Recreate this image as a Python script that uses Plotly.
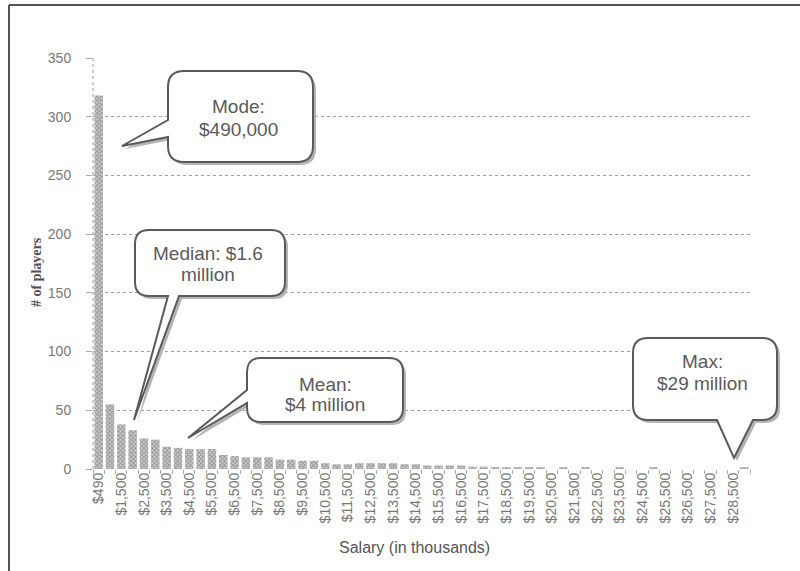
import plotly.graph_objects as go

# Salary bins (thousands of dollars): the $490k minimum, then $500k steps up to $29M
salary_bins = [490] + list(range(1000, 29001, 500))
bin_labels = [f"${v:,}" for v in salary_bins]

# Number of players per salary bin
player_counts = [
    318, 55, 38, 33, 26, 25, 19, 18, 17, 17,
    17, 12, 11, 10, 10, 10, 8, 8, 7, 7,
    5, 4, 4, 5, 5, 5, 5, 4, 4, 3,
    3, 3, 3, 2, 2, 1, 1, 1, 1, 1,
    0, 1, 0, 1, 0, 0, 1, 0, 0, 1,
    0, 0, 0, 0, 0, 0, 0, 1,
]

# Only every other bin gets a printed tick label
tick_text = [lab if i % 2 == 0 else "" for i, lab in enumerate(bin_labels)]

y_ticks = [0, 50, 100, 150, 200, 250, 300, 350]

# Callout texts
mode_text = ["Mode:", "$490,000"]
median_text = ["Median: $1.6", "million"]
mean_text = ["Mean:", "$4 million"]
max_text = ["Max:", "$29 million"]

FIG_W, FIG_H = 800, 571
L, R, T, B = 93, 750, 58, 469
PW, PH = R - L, B - T


def px_x(x):
    return (x - L) / PW


def px_y(y):
    return (B - y) / PH


def bubble_path(x0, y0, x1, y1, r, side, a, b, tip, dx=0, dy=0):
    """Rounded speech bubble; tail leaves `side` between a and b and ends at tip."""
    pts = []

    def P(cmd, *xy):
        coords = []
        for i in range(0, len(xy), 2):
            coords.append(f"{px_x(xy[i] + dx):.5f},{px_y(xy[i + 1] + dy):.5f}")
        pts.append(cmd + " " + " ".join(coords))

    P("M", x0 + r, y0)
    P("L", x1 - r, y0)
    P("Q", x1, y0, x1, y0 + r)
    P("L", x1, y1 - r)
    P("Q", x1, y1, x1 - r, y1)
    if side == "bottom":
        P("L", b, y1)
        P("L", tip[0], tip[1])
        P("L", a, y1)
    P("L", x0 + r, y1)
    P("Q", x0, y1, x0, y1 - r)
    if side == "left":
        P("L", x0, b)
        P("L", tip[0], tip[1])
        P("L", x0, a)
    P("L", x0, y0 + r)
    P("Q", x0, y0, x0 + r, y0)
    return " ".join(pts) + " Z"


fig = go.Figure()
fig.add_trace(go.Bar(
    x=bin_labels,
    y=player_counts,
    marker=dict(
        color="#b8b8b8",
        line=dict(width=0),
        pattern=dict(shape="x", size=3, solidity=0.55,
                     fgcolor="#5a5a5a", bgcolor="#cfcfcf"),
    ),
    hoverinfo="x+y",
))

shapes = []
annotations = []

# dotted left axis line
shapes.append(dict(type="line", xref="paper", yref="paper",
                   x0=0, x1=0, y0=0, y1=1,
                   line=dict(color="#9a9a9a", width=1, dash="dot"), layer="above"))

bubbles = [
    dict(box=(168, 71, 313, 162), r=16, side="left", a=120, b=137, tip=(122, 146),
         text=mode_text, cx=238, ly=(107, 129)),
    dict(box=(135, 230, 285, 296), r=14, side="bottom", a=168, b=179, tip=(134, 420),
         text=median_text, cx=208, ly=(253, 274)),
    dict(box=(247, 358, 403, 422), r=14, side="left", a=390, b=403, tip=(188, 438),
         text=mean_text, cx=325, ly=(384, 404)),
    dict(box=(633, 338, 777, 420), r=15, side="bottom", a=717, b=753, tip=(734, 458),
         text=max_text, cx=702, ly=(361, 383)),
]

for bb in bubbles:
    x0, y0, x1, y1 = bb["box"]
    # soft drop shadow
    shapes.append(dict(type="path", xref="paper", yref="paper", layer="above",
                       path=bubble_path(x0, y0, x1, y1, bb["r"], bb["side"], bb["a"], bb["b"],
                                        bb["tip"], dx=3, dy=3),
                       fillcolor="#b4b4b4", line=dict(width=0)))
    shapes.append(dict(type="path", xref="paper", yref="paper", layer="above",
                       path=bubble_path(x0, y0, x1, y1, bb["r"], bb["side"], bb["a"], bb["b"],
                                        bb["tip"]),
                       fillcolor="white", line=dict(color="#5a5a5a", width=2)))
    for line_text, ly in zip(bb["text"], bb["ly"]):
        annotations.append(dict(xref="paper", yref="paper", x=px_x(bb["cx"]), y=px_y(ly),
                                text=line_text, showarrow=False, xanchor="center",
                                yanchor="middle",
                                font=dict(family="Liberation Sans, Arial", size=19,
                                          color="#5a5a5a")))

# outer frame (left and top edges)
shapes.append(dict(type="line", xref="paper", yref="paper",
                   x0=px_x(9), x1=px_x(9), y0=px_y(5), y1=px_y(575),
                   line=dict(color="#555555", width=2)))
shapes.append(dict(type="line", xref="paper", yref="paper",
                   x0=px_x(9), x1=px_x(805), y0=px_y(5), y1=px_y(5),
                   line=dict(color="#555555", width=2)))

# axis titles
annotations.append(dict(xref="paper", yref="paper", x=px_x(414), y=px_y(547),
                        text="Salary (in thousands)", showarrow=False,
                        xanchor="center", yanchor="middle",
                        font=dict(family="Liberation Sans, Arial", size=16, color="#555555")))
annotations.append(dict(xref="paper", yref="paper", x=px_x(36), y=px_y(272),
                        text="<b># of players</b>", showarrow=False, textangle=-90,
                        xanchor="center", yanchor="middle",
                        font=dict(family="Liberation Serif, Times New Roman", size=14,
                                  color="#505050")))

fig.update_layout(
    width=FIG_W, height=FIG_H,
    margin=dict(l=L, r=FIG_W - R, t=T, b=FIG_H - B),
    paper_bgcolor="white", plot_bgcolor="white",
    bargap=0.25,
    showlegend=False,
    shapes=shapes,
    annotations=annotations,
)

fig.update_xaxes(
    type="category",
    categoryorder="array", categoryarray=bin_labels,
    tickmode="array", tickvals=bin_labels, ticktext=tick_text,
    tickangle=-90, ticks="outside", ticklen=4, tickcolor="#aaaaaa",
    tickson="boundaries",
    tickfont=dict(family="Liberation Sans, Arial", size=14, color="#777777"),
    showgrid=False, showline=False, zeroline=False,
)

fig.update_yaxes(
    range=[0, 350], tickvals=y_ticks,
    showgrid=True, gridcolor="#a0a0a0", griddash="dot", gridwidth=1,
    zeroline=False, showline=False,
    ticks="outside", ticklen=6, tickcolor="#aaaaaa",
    ticklabelstandoff=12,
    tickfont=dict(family="Liberation Sans, Arial", size=14, color="#777777"),
)

fig.write_html("out.html")
